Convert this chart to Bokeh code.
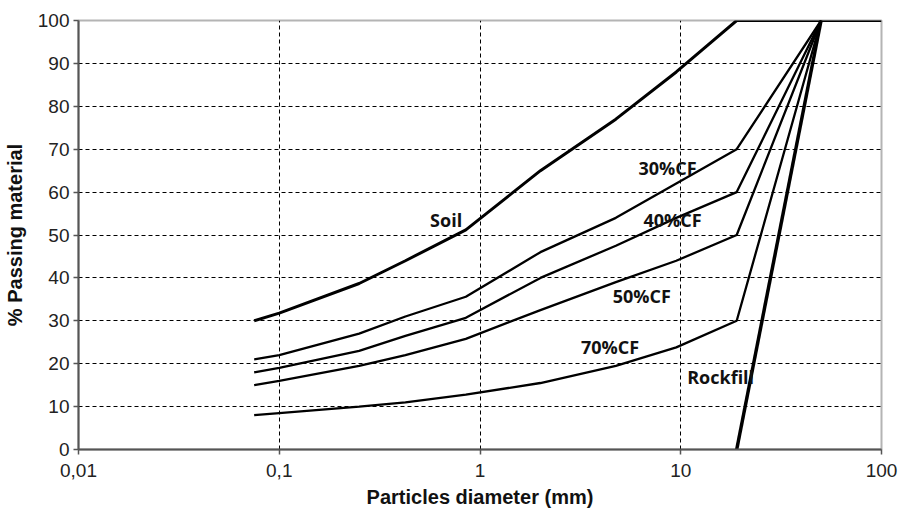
from bokeh.plotting import figure
from bokeh.models import Range1d, FixedTicker, CustomJSTickFormatter, ColumnDataSource
from bokeh.core.properties import value
from bokeh.embed import file_html
from bokeh.resources import INLINE

# Particle sizes (mm)
soil_x = [0.075, 0.1, 0.25, 0.425, 0.85, 2, 4.75, 9.5, 19, 50, 100]
soil_y = [30, 31.8, 38.7, 44, 51.2, 65, 77, 88, 100, 100, 100]

cf_x = [0.075, 0.1, 0.25, 0.425, 0.85, 2, 4.75, 9.5, 19, 50]
cf30_y = [21, 22, 27, 31, 35.6, 46, 54, 62, 70, 100]
cf40_y = [18, 19, 23, 26.5, 30.7, 40, 47.5, 54, 60, 100]
cf50_y = [15, 16, 19.5, 22, 25.8, 32.5, 39, 44, 50, 100]
cf70_y = [8, 8.5, 10, 11, 12.8, 15.5, 19.5, 23.8, 30, 100]

rock_x = [19, 50]
rock_y = [0, 100]

label_text = ["Soil", "30%CF", "40%CF", "50%CF", "70%CF", "Rockfill"]
label_x = [0.678, 8.6, 9.1, 6.4, 4.44, 15.8]
label_y = [53.4, 65.7, 53.4, 35.7, 23.8, 17.0]

x_ticks = [0.01, 0.1, 1, 10, 100]
y_ticks = [0, 10, 20, 30, 40, 50, 60, 70, 80, 90, 100]

x_title = "Particles diameter (mm)"
y_title = "% Passing material"

p = figure(width=899, height=511, x_axis_type="log",
           x_range=Range1d(0.01, 100), y_range=Range1d(0, 100),
           output_backend="svg", toolbar_location=None,
           min_border_left=77, min_border_right=18, min_border_top=20, min_border_bottom=62)
p.background_fill_color = "white"
p.border_fill_color = "white"
p.outline_line_color = "#b4b4b4"
p.outline_line_width = 2

# grids
p.xgrid.ticker = FixedTicker(ticks=[0.1, 1, 10])
p.ygrid.ticker = FixedTicker(ticks=y_ticks[1:-1])
for g in (p.xgrid, p.ygrid):
    g.grid_line_color = "black"
    g.grid_line_dash = "4 3"
    g.grid_line_width = 1

# axes
p.xaxis.ticker = FixedTicker(ticks=x_ticks)
p.xaxis.formatter = CustomJSTickFormatter(code="return String(tick).replace('.', ',');")
p.yaxis.ticker = FixedTicker(ticks=y_ticks)
for ax in (p.xaxis, p.yaxis):
    ax.axis_line_color = "#555555"
    ax.axis_line_width = 2
    ax.major_tick_line_color = "#555555"
    ax.major_tick_line_width = 1.5
    ax.major_tick_out = 5
    ax.major_tick_in = 0
    ax.minor_tick_line_color = None
    ax.major_label_text_font = "Liberation Sans"
    ax.major_label_text_font_size = "19px"
    ax.major_label_text_color = "#222222"
    ax.axis_label_text_font = "Liberation Sans"
    ax.axis_label_text_font_style = "bold"
    ax.axis_label_text_font_size = "20px"
    ax.axis_label_text_color = "#111111"

p.xaxis.axis_label = x_title
p.yaxis.axis_label = y_title
p.xaxis.major_label_standoff = 9
p.yaxis.major_label_standoff = 4
p.xaxis.axis_label_standoff = 6
p.yaxis.axis_label_standoff = 9

# curves
p.line(soil_x, soil_y, line_color="black", line_width=3)
p.line(cf_x, cf30_y, line_color="black", line_width=2.3)
p.line(cf_x, cf40_y, line_color="black", line_width=2.3)
p.line(cf_x, cf50_y, line_color="black", line_width=2.3)
p.line(cf_x, cf70_y, line_color="black", line_width=2.3)
p.line(rock_x, rock_y, line_color="black", line_width=3.5)

src = ColumnDataSource(dict(x=label_x, y=label_y, t=label_text))
p.text(x="x", y="y", text="t", source=src, text_font=value("Open Sans"),
       text_font_style="bold", text_font_size="18px", text_color="#111111",
       text_align="center", text_baseline="middle")

open("out.html", "w").write(file_html(p, INLINE))
